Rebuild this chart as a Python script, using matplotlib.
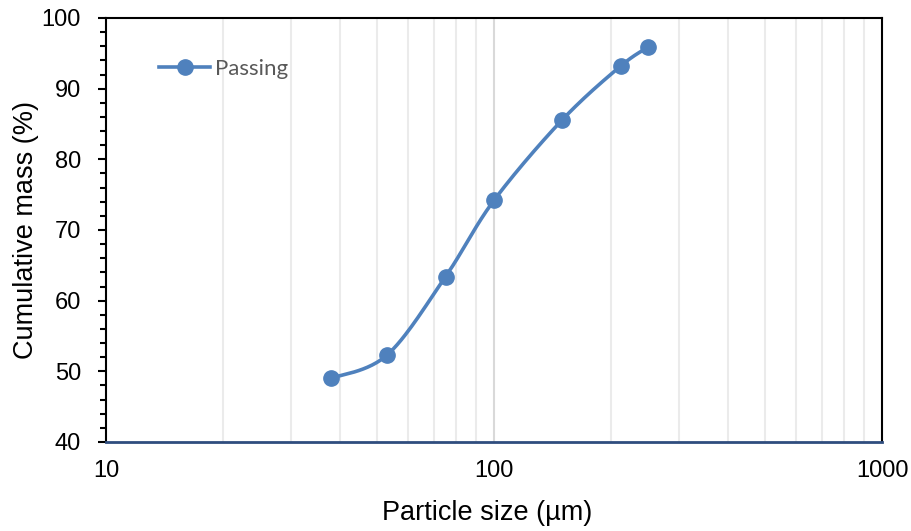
import numpy as np
import matplotlib
matplotlib.use("Agg")
import matplotlib.pyplot as plt
from matplotlib.ticker import FixedLocator, NullFormatter, MultipleLocator

# values
sizes_um = [38, 53, 75, 100, 150, 212, 250]
passing_pct = [49.0, 52.3, 63.4, 74.2, 85.6, 93.2, 95.9]
x_ticks = [10, 100, 1000]
x_tick_labels = ["10", "100", "1000"]
y_ticks = [40, 50, 60, 70, 80, 90, 100]

LINE_BLUE = "#4F81BD"

plt.rcParams['font.family'] = ['Liberation Sans', 'DejaVu Sans']


def smooth_curve(xs, ys, n=30):
    # Excel-style smoothed line: Catmull-Rom bezier in log-x space
    lx = np.log10(xs)
    ys = np.asarray(ys, dtype=float)
    pts = np.column_stack([lx, ys])
    out = []
    for i in range(len(pts) - 1):
        p0 = pts[i - 1] if i > 0 else pts[i]
        p1 = pts[i]
        p2 = pts[i + 1]
        p3 = pts[i + 2] if i + 2 < len(pts) else pts[i + 1]
        c1 = p1 + (p2 - p0) / 6.0
        c2 = p2 - (p3 - p1) / 6.0
        t = np.linspace(0, 1, n)[:, None]
        seg = ((1 - t) ** 3) * p1 + 3 * ((1 - t) ** 2) * t * c1 + 3 * (1 - t) * t ** 2 * c2 + t ** 3 * p2
        out.append(seg if i == 0 else seg[1:])
    out = np.vstack(out)
    return 10 ** out[:, 0], out[:, 1]


fig = plt.figure(figsize=(9.11, 5.31), dpi=100)
ax = fig.add_axes([106 / 911, 89 / 531, 776 / 911, 424 / 531])

ax.set_xscale('log')
ax.set_xlim(10, 1000)
ax.set_ylim(40, 100)

# vertical gridlines only
minor_x = [m * d for d in (10, 100) for m in range(2, 10)]
for xv in minor_x:
    ax.axvline(xv, color="#EBEBEB", lw=1.5, zorder=0)
ax.axvline(100, color="#D9D9D9", lw=1.5, zorder=0)

sx, sy = smooth_curve(sizes_um, passing_pct)
ax.plot(sx, sy, color=LINE_BLUE, lw=2.6, zorder=3, solid_capstyle='round')
ax.plot(sizes_um, passing_pct, linestyle='none', marker='o', markersize=11,
        color=LINE_BLUE, zorder=4)

# legend proxy
ax.plot([], [], color=LINE_BLUE, lw=2.6, marker='o', markersize=11, label="Passing")
leg = ax.legend(loc='upper left', bbox_to_anchor=(0.057, 0.925), frameon=False,
                handlelength=2.3, handletextpad=0.2, borderaxespad=0,
                prop={'family': 'Lato', 'size': 16})
for t in leg.get_texts():
    t.set_color("#595959")

ax.xaxis.set_major_locator(FixedLocator(x_ticks))
ax.set_xticklabels(x_tick_labels)
ax.xaxis.set_minor_locator(FixedLocator(minor_x))
ax.xaxis.set_minor_formatter(NullFormatter())
ax.tick_params(axis='x', which='both', length=0, pad=13, labelsize=17)

ax.set_yticks(y_ticks)
ax.yaxis.set_minor_locator(MultipleLocator(2))
ax.tick_params(axis='y', which='major', direction='out', length=6, width=1.5, pad=12, labelsize=17)
ax.tick_params(axis='y', which='minor', direction='out', length=4, width=1.5)

for side in ('top', 'right', 'left'):
    ax.spines[side].set_color('black')
    ax.spines[side].set_linewidth(1.5)
ax.spines['bottom'].set_color('#2F4D7E')
ax.spines['bottom'].set_linewidth(2)

ax.set_xlabel("Particle size (µm)", fontsize=19.5)
ax.xaxis.set_label_coords(0.491, -0.137)
ax.set_ylabel("Cumulative mass (%)", fontsize=19.5, labelpad=2)

fig.savefig("out.png", dpi=100)
